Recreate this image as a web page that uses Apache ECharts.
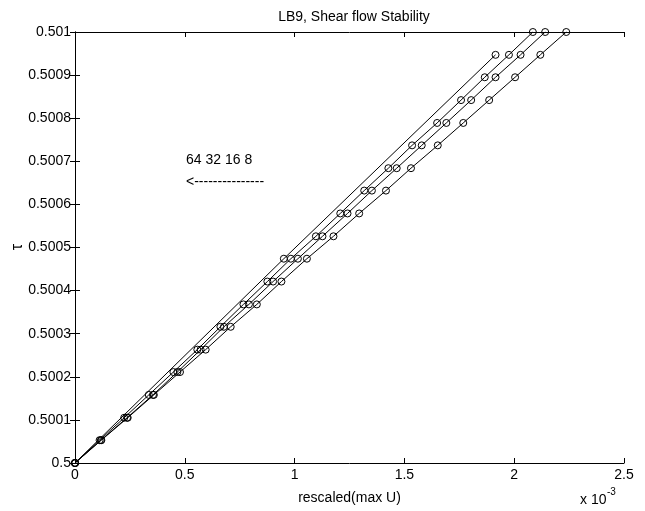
<!DOCTYPE html>
<html>
<head>
<meta charset="utf-8">
<script src="https://cdn.jsdelivr.net/npm/echarts@6/dist/echarts.min.js"></script>
<style>
html,body{margin:0;padding:0;background:#fff;}
#c{width:645px;height:511px;}
</style>
</head>
<body>
<div id="c"></div>
<script>
// tau values (y) shared by the 32, 16, 8 runs
var tau = [0.5, 0.500053, 0.500105, 0.500158, 0.500211, 0.500263, 0.500316, 0.500368, 0.500421, 0.500474,
           0.500526, 0.500579, 0.500632, 0.500684, 0.500737, 0.500789, 0.500842, 0.500895, 0.500947, 0.501];
// 64 run has only three points
var tau64 = [0.5, 0.500474, 0.500947];
var x64 = [0, 0.951, 1.915];
// rescaled(max U), in units of 1e-3
var x32 = [0, 0.112, 0.224, 0.336, 0.448, 0.557, 0.662, 0.767, 0.876, 0.983, 1.097, 1.208, 1.317, 1.427, 1.535, 1.649, 1.758, 1.866, 1.976, 2.085];
var x16 = [0, 0.118, 0.237, 0.355, 0.466, 0.572, 0.678, 0.792, 0.902, 1.015, 1.127, 1.241, 1.352, 1.465, 1.579, 1.691, 1.804, 1.915, 2.029, 2.141];
var x8  = [0, 0.120, 0.240, 0.359, 0.478, 0.595, 0.709, 0.828, 0.940, 1.056, 1.177, 1.294, 1.416, 1.530, 1.652, 1.768, 1.886, 2.004, 2.119, 2.237];
var seriesNames = ['64', '32', '16', '8'];
var xTickLabels = ['0', '0.5', '1', '1.5', '2', '2.5'];
var yTickLabels = ['0.5', '0.5001', '0.5002', '0.5003', '0.5004', '0.5005', '0.5006', '0.5007', '0.5008', '0.5009', '0.501'];

var FONT = '"Liberation Sans", Arial, Helvetica, sans-serif';
function pairs(xs, ys) { return xs.map(function (x, i) { return [x, ys[i]]; }); }
function mkSeries(name, data) {
  return {
    name: name, type: 'line', data: data, clip: false,
    symbol: 'circle', symbolSize: 7,
    itemStyle: { color: 'rgba(0,0,0,0)', borderColor: '#000', borderWidth: 1 },
    lineStyle: { color: '#000', width: 1 },
    emphasis: { disabled: true }, silent: true
  };
}
var chart = echarts.init(document.getElementById('c'), null, { renderer: 'canvas' });
var axLine = { show: true, lineStyle: { color: '#000', width: 1 } };
var axTick = { show: true, inside: true, length: 5, lineStyle: { color: '#000' } };
chart.setOption({
  animation: false,
  backgroundColor: '#fff',
  textStyle: { fontFamily: FONT },
  title: {
    text: 'LB9, Shear flow Stability', left: 349, top: 5, textAlign: 'center',
    textStyle: { fontFamily: FONT, fontSize: 14, fontWeight: 'normal', color: '#000' }
  },
  grid: { left: 75, right: 21, top: 32, bottom: 48, containLabel: false, outerBoundsMode: 'none', show: false },
  xAxis: [{
    type: 'value', min: 0, max: 2.5, interval: 0.5, position: 'bottom',
    axisLine: axLine, axisTick: axTick, splitLine: { show: false },
    axisLabel: { color: '#000', fontSize: 14, fontFamily: FONT, margin: 5,
      formatter: function (v) { return xTickLabels[Math.round(v / 0.5)]; } },
    name: 'rescaled(max U)', nameLocation: 'middle', nameGap: 28, nameMoveOverlap: false,
    nameTextStyle: { color: '#000', fontSize: 14, fontFamily: FONT }
  }, {
    type: 'value', min: 0, max: 2.5, interval: 0.5, position: 'top',
    axisLine: axLine, axisTick: axTick, splitLine: { show: false }, axisLabel: { show: false }
  }],
  yAxis: [{
    type: 'value', min: 0.5, max: 0.501, interval: 0.0001, position: 'left',
    axisLine: axLine, axisTick: axTick, splitLine: { show: false },
    axisLabel: { color: '#000', fontSize: 14, fontFamily: FONT, margin: 4,
      formatter: function (v) { return yTickLabels[Math.round((v - 0.5) / 0.0001)]; } }
  }, {
    type: 'value', min: 0.5, max: 0.501, interval: 0.0001, position: 'right',
    axisLine: axLine, axisTick: axTick, splitLine: { show: false }, axisLabel: { show: false }
  }],
  series: [
    mkSeries(seriesNames[0], pairs(x64, tau64)),
    mkSeries(seriesNames[1], pairs(x32, tau)),
    mkSeries(seriesNames[2], pairs(x16, tau)),
    mkSeries(seriesNames[3], pairs(x8, tau))
  ],
  graphic: [
    { type: 'text', x: 18, y: 247, rotation: Math.PI / 2,
      style: { text: 'τ', fontSize: 16, fontFamily: FONT, fill: '#000', align: 'center', verticalAlign: 'middle' } },
    { type: 'text', left: 186, top: 153, style: { text: seriesNames.join(' '), fontSize: 14, fontFamily: FONT, fill: '#000' } },
    { type: 'text', left: 186, top: 175, style: { text: '<---------------', fontSize: 14, fontFamily: FONT, fill: '#000' } },
    { type: 'text', left: 580, top: 493, style: { text: 'x 10', fontSize: 14, fontFamily: FONT, fill: '#000' } },
    { type: 'text', left: 607, top: 487, style: { text: '-3', fontSize: 10, fontFamily: FONT, fill: '#000' } }
  ]
});
</script>
</body>
</html>
